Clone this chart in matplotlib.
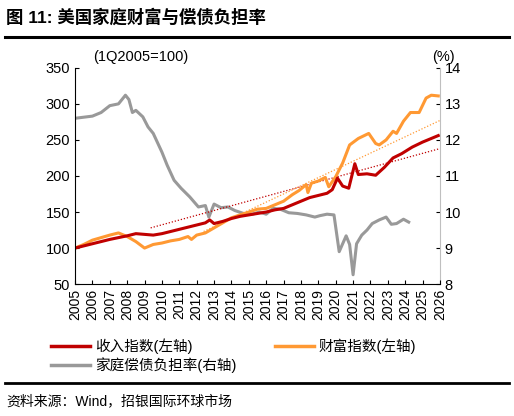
import matplotlib
matplotlib.use('Agg')
import matplotlib.pyplot as plt
from matplotlib.lines import Line2D

plt.rcParams['font.family'] = ['Liberation Sans', 'Noto Sans CJK SC', 'DejaVu Sans']

income_x = [2005, 2006, 2007, 2008, 2008.5, 2009, 2009.5, 2010, 2010.5, 2011, 2011.5, 2012, 2012.5, 2012.75,
            2013, 2013.5, 2014, 2014.5, 2015, 2015.5, 2016, 2016.5, 2017, 2017.5, 2018, 2018.5, 2019, 2019.5,
            2019.8, 2020.1, 2020.4, 2020.75, 2021.1, 2021.3, 2021.8, 2022.3, 2022.8, 2023.3, 2023.8, 2024.4,
            2025, 2025.5, 2025.9]
income = [100, 106, 112, 117, 120, 119, 118, 120, 123, 126, 129, 132, 135, 139,
          134, 137, 141, 144, 146, 148, 150, 153, 155, 160, 165, 170, 173, 176,
          181, 197, 186, 183, 217, 202, 203, 201, 212, 225, 231, 240,
          247, 252, 256]

wealth_x = [2005, 2005.5, 2006, 2007, 2007.5, 2008, 2008.5, 2009, 2009.5, 2010, 2010.5, 2011, 2011.5, 2011.7,
            2012, 2012.5, 2013, 2013.5, 2014, 2014.5, 2015, 2015.5, 2016, 2016.5, 2017, 2017.5, 2017.9, 2018.3,
            2018.4, 2018.6, 2019, 2019.4, 2019.6, 2020, 2020.4, 2020.8, 2021.3, 2021.9, 2022.3, 2022.5, 2022.9,
            2023.3, 2023.5, 2023.9, 2024.3, 2024.8, 2025.2, 2025.5, 2025.9]
wealth = [100, 105, 111, 118, 121, 116, 109, 100, 105, 107, 110, 112, 116, 112,
          118, 121, 128, 135, 142, 146, 150, 154, 155, 160, 165, 174, 180, 188,
          177, 190, 193, 198, 185, 199, 218, 243, 252, 259, 245, 243, 250,
          262, 259, 276, 288, 288, 308, 312, 311]

debt_x = [2005, 2006, 2006.5, 2007, 2007.5, 2007.9, 2008.1, 2008.3, 2008.5, 2008.9, 2009.2, 2009.5, 2010,
          2010.3, 2010.7, 2011.1, 2011.6, 2012.1, 2012.5, 2012.7, 2013, 2013.4, 2013.8, 2014.2, 2014.7,
          2015.2, 2015.6, 2016, 2016.4, 2016.8, 2017.3, 2017.8, 2018.3, 2018.8, 2019.1, 2019.5, 2019.9,
          2020.2, 2020.6, 2020.8, 2021.0, 2021.2, 2021.5, 2021.8, 2022.1, 2022.5, 2022.9, 2023.2, 2023.5,
          2023.9, 2024.2]
debt = [12.6, 12.66, 12.76, 12.95, 13.0, 13.24, 13.12, 12.76, 12.82, 12.64, 12.36, 12.18, 11.66,
        11.3, 10.88, 10.66, 10.42, 10.14, 10.18, 9.86, 10.22, 10.12, 10.14, 10.04, 9.96,
        9.94, 10.0, 9.94, 10.1, 10.08, 9.98, 9.96, 9.92, 9.86, 9.9, 9.94, 9.92,
        8.9, 9.34, 9.1, 8.26, 9.12, 9.36, 9.5, 9.68, 9.78, 9.86, 9.66, 9.68,
        9.8, 9.72]

income_trend_x = [2009.35, 2026]
income_trend = [128, 238]
wealth_trend_x = [2012.4, 2026]
wealth_trend = [123, 277]

red = '#C00000'
orange = '#FF9933'
gray = '#999999'

fig = plt.figure(figsize=(5.14, 4.16), dpi=100)
ax = fig.add_axes([0.146, 0.317, 0.71, 0.52])
ax2 = ax.twinx()

ax2.plot(debt_x, debt, color=gray, lw=2.2)
ax.plot(income_trend_x, income_trend, color=red, lw=0.9, ls=(0, (1, 1.5)))
ax.plot(wealth_trend_x, wealth_trend, color=orange, lw=0.9, ls=(0, (1, 1.5)))
ax.plot(wealth_x, wealth, color=orange, lw=2.2)
ax.plot(income_x, income, color=red, lw=2.2)
ax.set_zorder(ax2.get_zorder() + 1)
ax.patch.set_visible(False)

ax.set_xlim(2005, 2026)
ax.set_ylim(50, 350)
ax2.set_ylim(8, 14)
ax.set_xticks(range(2005, 2027))
ax.set_xticklabels([str(y) for y in range(2005, 2027)], rotation=90, fontsize=10)
ax.set_yticks(range(50, 351, 50))
ax.tick_params(axis='y', labelsize=10.5, direction='in', length=3)
ax.tick_params(axis='x', direction='in', length=3)
ax2.set_yticks(range(8, 15))
ax2.tick_params(axis='y', labelsize=10.5, direction='in', length=3, colors='black')
for a in (ax, ax2):
    a.spines['top'].set_visible(False)
ax2.spines['left'].set_visible(False)
ax2.spines['bottom'].set_visible(False)
ax2.spines['right'].set_color('#BFBFBF')
ax.spines['right'].set_visible(False)

fig.text(0.182, 0.853, '(1Q2005=100)', fontsize=10.5)
fig.text(0.84, 0.853, '(%)', fontsize=10.5)

fig.text(0.012, 0.945, '图 11: 美国家庭财富与偿债负担率', fontsize=12.5, fontweight='bold')
fig.add_artist(Line2D([0.01, 0.99], [0.91, 0.91], color='black', lw=2.2))
fig.add_artist(Line2D([0.01, 0.99], [0.079, 0.079], color='black', lw=2.0))
fig.text(0.012, 0.025, '资料来源：Wind，招银国际环球市场', fontsize=10)

legend_items = [(0.10, 0.157, red, '收入指数(左轴)'),
                (0.535, 0.157, orange, '财富指数(左轴)'),
                (0.10, 0.11, gray, '家庭偿债负担率(右轴)')]
for lx, ly, c, label in legend_items:
    fig.add_artist(Line2D([lx, lx + 0.075], [ly + 0.012, ly + 0.012], color=c, lw=2.5))
    fig.text(lx + 0.085, ly, label, fontsize=10.5)

fig.savefig('out.png', dpi=100)
